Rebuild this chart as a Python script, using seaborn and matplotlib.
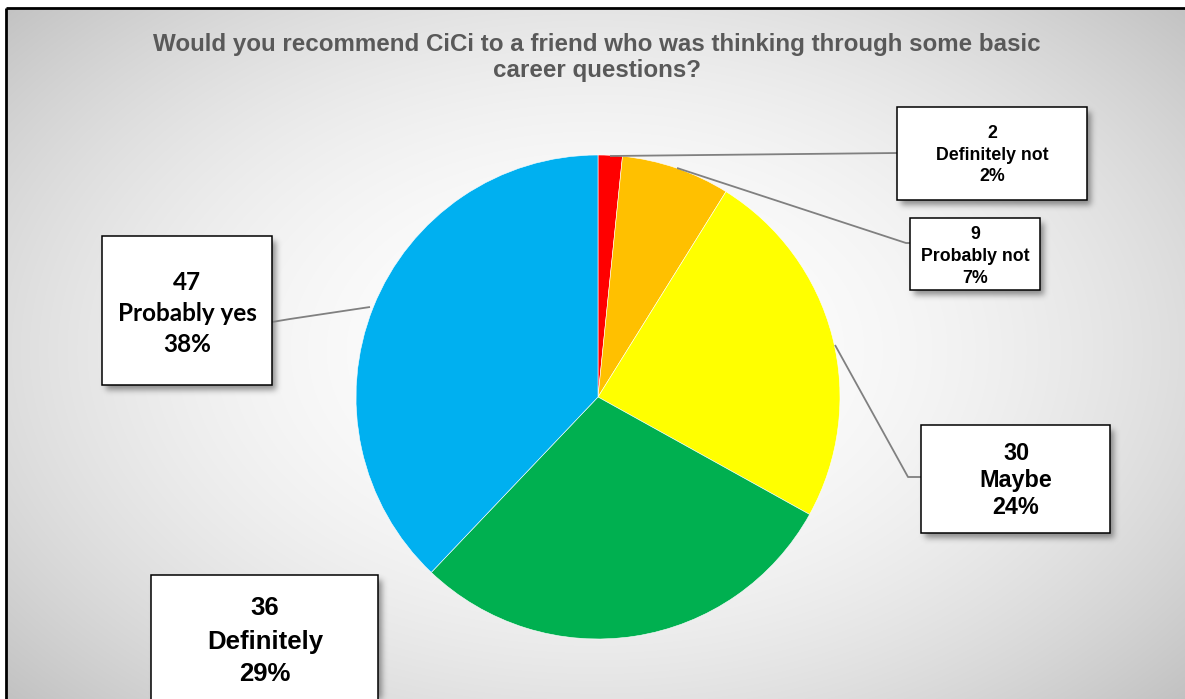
import numpy as np
import matplotlib
matplotlib.use("Agg")
import matplotlib.pyplot as plt
from matplotlib.patches import Rectangle
import seaborn as sns

# Survey answers, clockwise from 12 o'clock
categories = ["Definitely not", "Probably not", "Maybe", "Definitely", "Probably yes"]
counts = [2, 9, 30, 36, 47]
slice_colors = ["#FF0000", "#FFC000", "#FFFF00", "#00B050", "#00B0F0"]
title_lines = ["Would you recommend CiCi to a friend who was thinking through some basic",
               "career questions?"]

W, H = 1185, 699
sns.set_theme(style="white")
plt.rcParams["font.family"] = ["Liberation Sans", "DejaVu Sans"]

fig = plt.figure(figsize=(W / 100, H / 100), dpi=100)
fig.patch.set_facecolor("white")
ax = fig.add_axes([0, 0, 1, 1])

# chart-area background: radial grey gradient, white near the middle
x0, y0 = 6, 8
yy, xx = np.mgrid[y0:H, x0:W]
r2 = ((xx - 595) / 800.0) ** 2 + ((yy - 350) / 520.0) ** 2
grey = 255 - 62 * np.clip(r2, 0, 1)
bg = np.dstack([grey, grey, grey]).astype(np.uint8)
ax.imshow(bg, extent=[x0, W, H, y0], zorder=0, interpolation="bilinear")

# pie
cx, cy, rad = 598, 397, 242
ax.pie(counts, colors=sns.color_palette(slice_colors), startangle=-90, counterclock=True,
       center=(cx, cy), radius=rad, frame=True,
       wedgeprops=dict(linewidth=0.4, edgecolor="white", zorder=3))

# label boxes: (left, top, right, bottom) in pixels, text centre x, baselines
boxes = {
    "Definitely not": dict(rect=(897, 107, 1087, 200), tx=992, base=(138, 160, 181), size=12.8, font="Liberation Sans"),
    "Probably not": dict(rect=(910, 218, 1040, 290), tx=975, base=(239, 261, 283), size=12.8, font="Liberation Sans"),
    "Maybe": dict(rect=(921, 425, 1110, 533), tx=1016, base=(460, 487, 514), size=16.8, font="Liberation Sans"),
    "Definitely": dict(rect=(151, 575, 378, 760), tx=265, base=(615, 649, 681), size=18.5, font="Liberation Sans"),
    "Probably yes": dict(rect=(102, 236, 272, 385), tx=187, base=(290, 321, 352), size=17.5, font="Lato"),
}

# soft drop shadows under the boxes
mask = np.zeros((H, W))
for b in boxes.values():
    l, t, r, btm = b["rect"]
    mask[max(t + 5, 0):min(btm + 5, H), max(l + 4, 0):min(r + 4, W)] = 1.0
k = np.exp(-0.5 * (np.arange(-9, 10) / 3.0) ** 2)
k /= k.sum()
mask = np.apply_along_axis(lambda m: np.convolve(m, k, mode="same"), 0, mask)
mask = np.apply_along_axis(lambda m: np.convolve(m, k, mode="same"), 1, mask)
shadow = np.zeros((H, W, 4))
shadow[..., :3] = 0.25
shadow[..., 3] = 0.55 * mask
ax.imshow(shadow, extent=[0, W, H, 0], zorder=4, interpolation="bilinear")

total = sum(counts)
for name, n in zip(categories, counts):
    b = boxes[name]
    l, t, r, btm = b["rect"]
    ax.add_patch(Rectangle((l, t), r - l, btm - t, facecolor="white",
                           edgecolor="black", linewidth=1.1, zorder=5))
    lines = [str(n), name, f"{round(100 * n / total)}%"]
    for txt, by in zip(lines, b["base"]):
        ax.text(b["tx"], by, txt, ha="center", va="baseline", fontsize=b["size"],
                fontweight="bold", color="black", family=[b["font"], "DejaVu Sans"], zorder=6)

# leader lines from slices to boxes
leaders = [
    [(610, 156), (897, 153)],
    [(677, 168), (906, 243), (910, 243)],
    [(835, 345), (908, 477), (921, 477)],
    [(370, 307), (290, 319), (272, 322)],
]
for pts in leaders:
    px, py = zip(*pts)
    ax.plot(px, py, color="#808080", linewidth=1.3, zorder=4.5, solid_capstyle="butt")

# title, two centred lines
for txt, by in zip(title_lines, (50.5, 77)):
    ax.text(597, by, txt, ha="center", va="baseline", fontsize=17.4,
            fontweight="bold", color="#595959", zorder=6)

# chart-area frame (top and left edges)
ax.plot([x0, W], [y0, y0], color="black", linewidth=2.0, zorder=7, solid_capstyle="butt")
ax.plot([x0, x0], [y0, H], color="black", linewidth=2.0, zorder=7, solid_capstyle="butt")

ax.set_xlim(0, W)
ax.set_ylim(H, 0)
ax.set_aspect("equal")
ax.axis("off")
fig.savefig("out.png", dpi=100, facecolor="white")
